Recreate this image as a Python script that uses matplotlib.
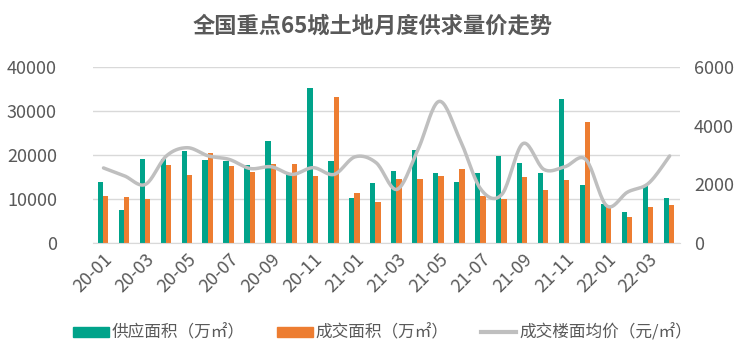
import numpy as np
import matplotlib
matplotlib.use("Agg")
import matplotlib.pyplot as plt
from matplotlib.lines import Line2D
from matplotlib.patches import Patch

plt.rcParams['font.family'] = ['Noto Sans CJK SC', 'DejaVu Sans']

months = ["20-01", "20-02", "20-03", "20-04", "20-05", "20-06", "20-07", "20-08",
          "20-09", "20-10", "20-11", "20-12", "21-01", "21-02", "21-03", "21-04",
          "21-05", "21-06", "21-07", "21-08", "21-09", "21-10", "21-11", "21-12",
          "22-01", "22-02", "22-03", "22-04"]
supply = [13800, 7500, 19200, 19000, 20900, 18800, 18600, 17700,
          23300, 15600, 35300, 18600, 10200, 13600, 16300, 21100,
          15900, 13800, 15900, 19700, 18100, 15900, 32800, 13100,
          8800, 7000, 12900, 10200]
deal = [10600, 10400, 10000, 17700, 15400, 20400, 17400, 16100,
        17900, 17900, 15200, 33300, 11300, 9300, 14500, 14500,
        15200, 16800, 10600, 10000, 14900, 12000, 14300, 27400,
        8200, 5900, 8200, 8600]
price = [2560, 2290, 2000, 2970, 3250, 2970, 2850, 2540,
         2600, 2340, 2570, 2340, 2940, 2740, 1830, 3190,
         4830, 3530, 1830, 1660, 3390, 2510, 2600, 2850,
         1270, 1740, 2040, 2970]

GREEN = "#00A38A"
ORANGE = "#ED7D31"
LINE = "#BFBFBF"
TXT = "#595959"


def smooth(x, y, n=20):
    # catmull-rom style smoothing like Excel's smoothed line
    x = np.asarray(x, float)
    y = np.asarray(y, float)
    px = np.concatenate([[x[0]], x, [x[-1]]])
    py = np.concatenate([[y[0]], y, [y[-1]]])
    xs, ys = [], []
    t = np.linspace(0, 1, n, endpoint=False)
    for i in range(1, len(px) - 2):
        p0, p1, p2, p3 = py[i - 1], py[i], py[i + 1], py[i + 2]
        q0, q1, q2, q3 = px[i - 1], px[i], px[i + 1], px[i + 2]
        for arr, (a0, a1, a2, a3) in ((xs, (q0, q1, q2, q3)), (ys, (p0, p1, p2, p3))):
            arr.extend(0.5 * ((2 * a1) + (-a0 + a2) * t
                              + (2 * a0 - 5 * a1 + 4 * a2 - a3) * t ** 2
                              + (-a0 + 3 * a1 - 3 * a2 + a3) * t ** 3))
    xs.append(x[-1])
    ys.append(y[-1])
    return np.array(xs), np.array(ys)


fig = plt.figure(figsize=(7.46, 3.62), dpi=100)
ax = fig.add_axes([0.1247, 0.3287, 0.787, 0.486])
ax2 = ax.twinx()

x = np.arange(len(months))
w = 0.25
ax.bar(x - w / 2 - 0.03, supply, width=w, color=GREEN, zorder=2)
ax.bar(x + w / 2 - 0.03, deal, width=w, color=ORANGE, zorder=2)

sx, sy = smooth(x, price)
ax2.plot(sx, sy, color=LINE, linewidth=2.5, solid_capstyle="round")

ax.set_xlim(-0.5, len(months) - 0.5)
ax.set_ylim(0, 40000)
ax2.set_ylim(0, 6000)
ax.set_yticks(range(0, 40001, 10000))
ax2.set_yticks(range(0, 6001, 2000))
ax.grid(axis="y", color="#D9D9D9", linewidth=1, zorder=0)
ax.set_axisbelow(True)

ax.set_xticks(x[::2])
ax.set_xticklabels(months[::2], rotation=45, ha="right", rotation_mode="anchor")

for a in (ax, ax2):
    for s in ("top", "left", "right", "bottom"):
        a.spines[s].set_visible(False)
    a.tick_params(length=0, colors=TXT, labelsize=13)
ax.spines["bottom"].set_visible(True)
ax.spines["bottom"].set_color("#D9D9D9")
ax.tick_params(axis="y", pad=26)
ax.tick_params(axis="x", pad=5)
ax2.tick_params(axis="y", pad=10)

fig.text(0.5, 0.928, "全国重点65城土地月度供求量价走势", ha="center", va="center",
         fontsize=16, fontweight="bold", color=TXT)

handles = [Patch(color=GREEN), Patch(color=ORANGE), Line2D([0], [0], color=LINE, lw=3)]
labels = ["供应面积（万㎡）", "成交面积（万㎡）", "成交楼面均价（元/㎡）"]
fig.legend(handles, labels, loc="center", bbox_to_anchor=(0.513, 0.08), ncol=3,
           frameon=False, fontsize=12, labelcolor=TXT, handlelength=2.15,
           handleheight=0.54, columnspacing=1.9, handletextpad=0.2)

fig.savefig("out.png", dpi=100)
